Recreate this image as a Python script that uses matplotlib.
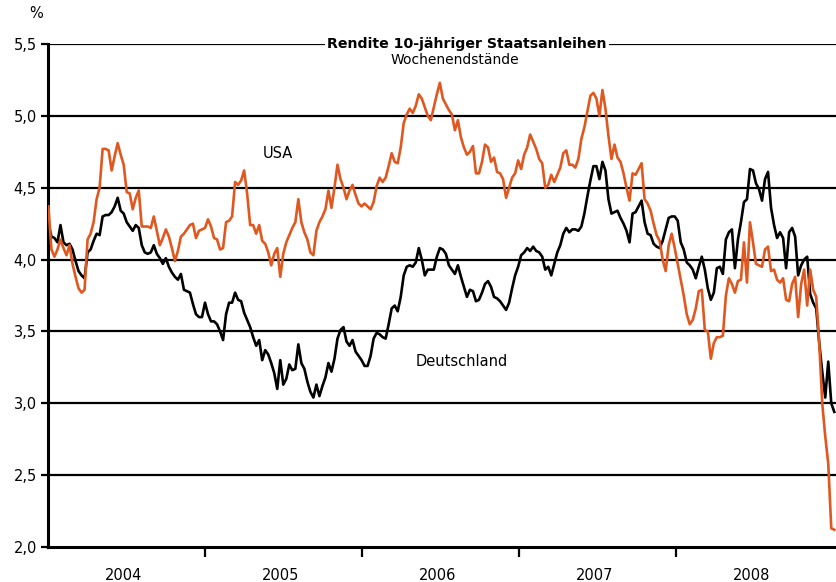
import numpy as np
import pandas as pd
import matplotlib
matplotlib.use("Agg")
import matplotlib.pyplot as plt
import matplotlib.dates as mdates

# weekly closes (Fridays), 10-year government bond yields in %
start = "2004-01-02"
usa = [
    4.37, 4.07, 4.02, 4.07, 4.14, 4.08, 4.03, 4.10, 3.97, 3.88, 3.80, 3.77, 3.79, 4.14, 4.18, 4.26,
    4.42, 4.50, 4.77, 4.77, 4.76, 4.62, 4.72, 4.81, 4.73, 4.66, 4.47, 4.46, 4.35, 4.43, 4.48, 4.23,
    4.23, 4.23, 4.22, 4.30, 4.20, 4.10, 4.15, 4.21, 4.16, 4.08, 3.99, 4.06,
    4.16, 4.18, 4.21, 4.24, 4.25, 4.15, 4.20, 4.21, 4.22, 4.28, 4.23, 4.15, 4.14, 4.07, 4.08, 4.26,
    4.27, 4.30, 4.54, 4.52, 4.55, 4.62, 4.46, 4.24, 4.24, 4.18, 4.24, 4.13, 4.11, 4.05, 3.96, 4.04,
    4.08, 3.88, 4.04, 4.12, 4.17, 4.22, 4.26, 4.42, 4.26, 4.19, 4.14,
    4.05, 4.03, 4.20, 4.26, 4.30, 4.35, 4.48, 4.36, 4.50, 4.66, 4.56, 4.50, 4.42, 4.48, 4.52, 4.45,
    4.39, 4.37, 4.39, 4.37, 4.35, 4.40, 4.51, 4.57, 4.54, 4.57, 4.65, 4.74, 4.68, 4.67, 4.78, 4.95,
    5.01, 5.05, 5.02, 5.07, 5.15, 5.12, 5.06, 5.00, 4.97, 5.06, 5.15, 5.23,
    5.12, 5.08, 5.04, 5.01, 4.90, 4.97, 4.85, 4.78, 4.73, 4.75, 4.79, 4.60, 4.60, 4.68, 4.80, 4.78,
    4.68, 4.71, 4.61, 4.60, 4.56, 4.43, 4.50, 4.57, 4.60, 4.69, 4.63, 4.73, 4.78, 4.87, 4.82, 4.77,
    4.70, 4.67, 4.50, 4.52, 4.59, 4.54, 4.59, 4.64, 4.74, 4.76, 4.66,
    4.66, 4.64, 4.70, 4.84, 4.92, 5.03, 5.14, 5.16, 5.12, 5.00, 5.18, 5.05, 4.86, 4.70, 4.80, 4.71,
    4.68, 4.60, 4.50, 4.41, 4.60, 4.59, 4.63, 4.67, 4.42, 4.39, 4.34, 4.25, 4.17, 4.13, 4.00, 3.92,
    4.10, 4.18, 4.08, 3.97, 3.86, 3.75, 3.62, 3.55, 3.58, 3.66, 3.78,
    3.79, 3.51, 3.50, 3.31, 3.42, 3.46, 3.46, 3.47, 3.75, 3.87, 3.83, 3.77, 3.85, 3.86, 4.12, 3.84,
    4.26, 4.12, 3.97, 3.96, 3.95, 4.07, 4.09, 3.92, 3.93, 3.86, 3.84, 3.87, 3.72, 3.71, 3.83, 3.88,
    3.60, 3.83, 3.93, 3.68, 3.93, 3.79, 3.74, 3.42, 3.00, 2.77, 2.58, 2.13, 2.12,
]
deutschland = [
    4.25, 4.16, 4.15, 4.12, 4.24, 4.12, 4.10, 4.11, 4.07, 3.99, 3.92, 3.89, 3.87, 4.05, 4.07, 4.13,
    4.18, 4.17, 4.30, 4.31, 4.31, 4.33, 4.37, 4.43, 4.34, 4.32, 4.26, 4.23, 4.20, 4.24, 4.22, 4.10,
    4.05, 4.04, 4.05, 4.10, 4.04, 4.01, 3.97, 4.01, 3.95, 3.91, 3.88, 3.86,
    3.90, 3.79, 3.78, 3.77, 3.69, 3.62, 3.60, 3.60, 3.70, 3.62, 3.57, 3.57, 3.55, 3.50, 3.44, 3.62,
    3.70, 3.70, 3.77, 3.72, 3.71, 3.63, 3.58, 3.53, 3.46, 3.40, 3.44, 3.30, 3.37, 3.34, 3.28, 3.21,
    3.10, 3.30, 3.13, 3.17, 3.27, 3.23, 3.24, 3.41, 3.28, 3.24, 3.15,
    3.08, 3.04, 3.13, 3.05, 3.12, 3.18, 3.28, 3.22, 3.31, 3.45, 3.51, 3.53, 3.43, 3.40, 3.44, 3.36,
    3.33, 3.30, 3.26, 3.26, 3.33, 3.45, 3.49, 3.48, 3.46, 3.45, 3.55, 3.66, 3.68, 3.64, 3.74, 3.89,
    3.95, 3.96, 3.95, 3.98, 4.08, 4.00, 3.89, 3.93, 3.93, 3.93, 4.02, 4.08,
    4.07, 4.04, 3.96, 3.93, 3.90, 3.96, 3.88, 3.81, 3.74, 3.79, 3.78, 3.71, 3.72, 3.77, 3.83, 3.85,
    3.81, 3.74, 3.73, 3.71, 3.68, 3.65, 3.70, 3.80, 3.89, 3.95, 4.03, 4.05, 4.08, 4.06, 4.09, 4.06,
    4.05, 4.02, 3.93, 3.95, 3.89, 3.97, 4.05, 4.10, 4.18, 4.22, 4.19,
    4.21, 4.21, 4.20, 4.23, 4.32, 4.44, 4.55, 4.65, 4.65, 4.56, 4.68, 4.62, 4.42, 4.32, 4.33, 4.34,
    4.29, 4.25, 4.20, 4.12, 4.32, 4.33, 4.37, 4.41, 4.26, 4.18, 4.17, 4.11, 4.09, 4.08, 4.13, 4.21,
    4.29, 4.30, 4.30, 4.27, 4.12, 4.07, 3.98, 3.96, 3.93, 3.87, 3.95,
    4.02, 3.93, 3.80, 3.72, 3.77, 3.94, 3.95, 3.90, 4.14, 4.19, 4.21, 3.94, 4.14, 4.26, 4.40, 4.42,
    4.63, 4.62, 4.53, 4.49, 4.41, 4.56, 4.61, 4.36, 4.24, 4.15, 4.19, 4.15, 3.94, 4.19, 4.22, 4.16,
    3.89, 3.96, 4.00, 4.02, 3.76, 3.70, 3.66, 3.42, 3.22, 3.04, 3.29, 3.00, 2.94,
]
years = [2004, 2005, 2006, 2007, 2008]
y_ticks = [2.0, 2.5, 3.0, 3.5, 4.0, 4.5, 5.0, 5.5]

orange = "#E0581F"

usa_dates = pd.date_range(start, periods=len(usa), freq="7D")
de_dates = pd.date_range(start, periods=len(deutschland), freq="7D")

fig = plt.figure(figsize=(8.36, 5.82), dpi=100)
ax = fig.add_axes([48 / 836, 1 - 547 / 582, 1 - 48 / 836, (547 - 44) / 582])

for y in y_ticks[1:]:
    ax.axhline(y, color="black", lw=1.6, zorder=1)

ax.plot(de_dates, deutschland, color="black", lw=1.9, zorder=3)
ax.plot(usa_dates, usa, color=orange, lw=1.9, zorder=4)

ax.set_ylim(2.0, 5.5)
ax.set_xlim(pd.Timestamp("2004-01-01"), pd.Timestamp("2009-01-06"))

ax.set_yticks(y_ticks)
ax.set_yticklabels([f"{v:.1f}".replace(".", ",") for v in y_ticks])
ax.tick_params(axis="y", length=5, width=1.6, labelsize=10.5, pad=3)

ax.set_xticks([pd.Timestamp(f"{y}-01-01") for y in years[1:]])
ax.set_xticklabels([])
ax.set_xticks([pd.Timestamp(f"{y}-06-24") for y in years], minor=True)
ax.set_xticklabels([str(y) for y in years], minor=True)
ax.tick_params(axis="x", which="major", length=7, width=1.6)
ax.tick_params(axis="x", which="minor", length=0, labelsize=10.5, pad=15)

for side in ["top", "right"]:
    ax.spines[side].set_visible(False)
ax.spines["left"].set_linewidth(2.2)
ax.spines["bottom"].set_linewidth(2.2)

fig.text(467 / 836, 1 - 44 / 582, "Rendite 10-jähriger Staatsanleihen", fontsize=10.2,
         fontweight="bold", ha="center", va="center", zorder=6,
         bbox=dict(facecolor="white", edgecolor="none", pad=1.5))
fig.text(455 / 836, 1 - 60 / 582, "Wochenendstände", fontsize=10, ha="center", va="center")
fig.text(278 / 836, 1 - 153 / 582, "USA", fontsize=10.5, ha="center", va="center")
fig.text(462 / 836, 1 - 362 / 582, "Deutschland", fontsize=10.5, ha="center", va="center")
fig.text(36 / 836, 1 - 14 / 582, "%", fontsize=10.5, ha="center", va="center")

fig.savefig("out.png", dpi=100)
